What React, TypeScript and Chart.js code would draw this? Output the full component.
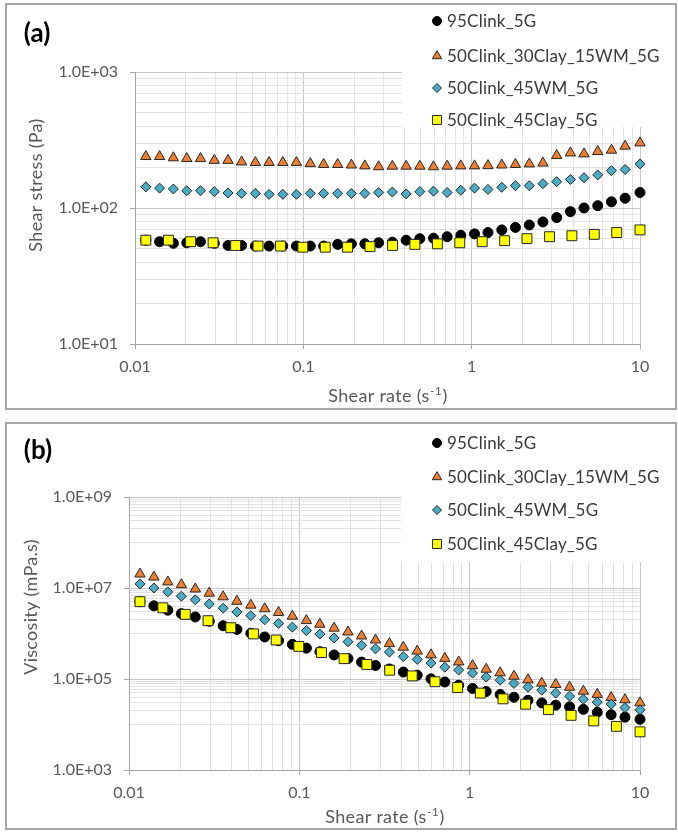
import React, { useEffect, useRef } from 'react';
import { Chart, registerables } from 'chart.js';
Chart.register(...registerables);

// ---------------- DATA ----------------
const seriesNames = ['95Clink_5G', '50Clink_30Clay_15WM_5G', '50Clink_45WM_5G', '50Clink_45Clay_5G'];

// shear rate sweeps (s^-1)
const rateDense = [0.0116, 0.0140, 0.0169, 0.0203, 0.0245, 0.0296, 0.0357, 0.0430, 0.0519, 0.0626, 0.0755, 0.0910, 0.110, 0.132, 0.160, 0.193, 0.232, 0.280, 0.338, 0.408, 0.492, 0.593, 0.715, 0.862, 1.04, 1.25, 1.51, 1.82, 2.20, 2.65, 3.20, 3.86, 4.65, 5.61, 6.77, 8.16, 10.0];
const rateSparse = [0.0116, 0.0158, 0.0214, 0.0291, 0.0396, 0.0538, 0.0731, 0.0993, 0.135, 0.183, 0.249, 0.339, 0.460, 0.626, 0.850, 1.155, 1.57, 2.13, 2.90, 3.94, 5.35, 7.27, 10.0];

// (a) shear stress (Pa)
const stress95 = [58, 56.5, 55, 55.5, 56.5, 55, 53, 53, 52.5, 52.5, 52.5, 52.5, 52.5, 52.5, 54, 54.5, 54.5, 55.5, 56, 58, 59.5, 60, 61.5, 63, 64.5, 66, 69, 72, 75, 79, 85, 94, 100, 104, 111, 118, 130];
const stress30Clay15WM = [239, 239, 234, 231, 231, 224, 224, 218, 216, 216, 216, 216, 212, 209, 209, 207, 204, 201, 203, 203, 203, 201, 203, 204, 204, 205, 207, 209, 211, 214, 243, 254, 250, 260, 266, 285, 301];
const stress45WM = [143, 140, 138, 134, 134, 132, 129, 128, 128, 126, 126, 126, 128, 128, 128, 128, 128, 130, 131, 127, 132, 133, 130, 135, 140, 137, 142, 146, 146, 151, 156, 162, 167, 175, 188, 192, 211];
const stress45Clay = [58, 58, 56.5, 55.5, 53, 52.5, 52.5, 51.5, 51.5, 51.5, 52, 53, 54, 54.5, 55.5, 56.5, 57.5, 59.5, 61.5, 62.5, 64, 66, 69];

// (b) viscosity (mPa.s)
const visc95 = [5.0e6, 4.05e6, 3.25e6, 2.73e6, 2.31e6, 1.86e6, 1.48e6, 1.23e6, 1.01e6, 8.4e5, 6.95e5, 5.77e5, 4.77e5, 3.98e5, 3.38e5, 2.82e5, 2.35e5, 1.98e5, 1.66e5, 1.42e5, 1.21e5, 1.01e5, 8.6e4, 7.3e4, 6.2e4, 5.3e4, 4.57e4, 3.96e4, 3.4e4, 2.98e4, 2.66e4, 2.44e4, 2.15e4, 1.85e4, 1.64e4, 1.45e4, 1.3e4];
const visc30Clay15WM = [2.03e7, 1.74e7, 1.36e7, 1.18e7, 9.5e6, 7.7e6, 6.4e6, 5.1e6, 4.2e6, 3.5e6, 2.9e6, 2.4e6, 1.92e6, 1.6e6, 1.31e6, 1.08e6, 8.8e5, 7.2e5, 6.0e5, 5.0e5, 4.1e5, 3.4e5, 2.84e5, 2.37e5, 1.96e5, 1.64e5, 1.37e5, 1.15e5, 9.6e4, 8.1e4, 7.6e4, 6.6e4, 5.4e4, 4.6e4, 3.9e4, 3.5e4, 3.0e4];
const visc45WM = [1.23e7, 1.0e7, 8.2e6, 6.6e6, 5.5e6, 4.46e6, 3.6e6, 2.98e6, 2.47e6, 2.0e6, 1.67e6, 1.38e6, 1.16e6, 9.7e5, 8.0e5, 6.6e5, 5.5e5, 4.6e5, 3.9e5, 3.1e5, 2.7e5, 2.24e5, 1.82e5, 1.57e5, 1.35e5, 1.1e5, 9.4e4, 8.0e4, 6.6e4, 5.7e4, 4.9e4, 4.2e4, 3.6e4, 3.1e4, 2.8e4, 2.35e4, 2.1e4];
const visc45Clay = [5.0e6, 3.67e6, 2.64e6, 1.91e6, 1.34e6, 9.8e5, 7.2e5, 5.2e5, 3.8e5, 2.8e5, 2.09e5, 1.56e5, 1.17e5, 8.7e4, 6.5e4, 4.9e4, 3.66e4, 2.79e4, 2.12e4, 1.59e4, 1.2e4, 9.1e3, 6.9e3];

// tick / gridline values
const xGrid = [0.01, 0.02, 0.03, 0.04, 0.05, 0.06, 0.07, 0.08, 0.09, 0.1, 0.2, 0.3, 0.4, 0.5, 0.6, 0.7, 0.8, 0.9, 1, 2, 3, 4, 5, 6, 7, 8, 9, 10];
const xLabels = [0.01, 0.1, 1, 10];
const yGridA = [10, 20, 30, 40, 50, 60, 70, 80, 90, 100, 200, 300, 400, 500, 600, 700, 800, 900, 1000];
const yLabelsA = [10, 100, 1000];
const yGridB = [1e3, 1e4, 2e4, 3e4, 4e4, 5e4, 6e4, 7e4, 8e4, 9e4, 1e5, 1e6, 2e6, 3e6, 4e6, 5e6, 6e6, 7e6, 8e6, 9e6, 1e7, 1e8, 2e8, 3e8, 4e8, 5e8, 6e8, 7e8, 8e8, 9e8, 1e9];
const yLabelsB = [1e3, 1e5, 1e7, 1e9];

// ---------------- STYLE ----------------
const FONT = "Lato, 'DejaVu Sans', sans-serif";
const markerStyles = [
  { style: 'circle', r: 5, fill: '#000000', stroke: '#000000' },
  { style: 'triangle', r: 6, fill: '#ED7D31', stroke: '#262626' },
  { style: 'rectRot', r: 5, fill: '#4BACC6', stroke: '#262626' },
  { style: 'rect', r: 7, fill: '#FFFF00', stroke: '#262626' },
];
const MAJOR_GRID = '#c8c8c8';
const MINOR_GRID = '#e2e2e2';
const AXIS_COLOR = '#a6a6a6';

function fmtExp(v: number) {
  const e = Math.round(Math.log10(v));
  return '1.0E' + (e < 0 ? '-' : '+') + String(Math.abs(e)).padStart(2, '0');
}

function drawMarker(ctx: CanvasRenderingContext2D, style: string, x: number, y: number, r: number, fill: string, stroke: string) {
  ctx.beginPath();
  if (style === 'circle') {
    ctx.arc(x, y, r, 0, Math.PI * 2);
  } else if (style === 'triangle') {
    for (let i = 0; i < 3; i++) {
      const a = (i * 2 * Math.PI) / 3;
      const px = x + Math.sin(a) * r;
      const py = y - Math.cos(a) * r;
      if (i === 0) ctx.moveTo(px, py); else ctx.lineTo(px, py);
    }
    ctx.closePath();
  } else if (style === 'rectRot') {
    ctx.moveTo(x - r, y); ctx.lineTo(x, y - r); ctx.lineTo(x + r, y); ctx.lineTo(x, y + r); ctx.closePath();
  } else {
    const s = Math.SQRT1_2 * r;
    ctx.rect(x - s, y - s, 2 * s, 2 * s);
  }
  ctx.fillStyle = fill; ctx.fill();
  ctx.lineWidth = 1; ctx.strokeStyle = stroke; ctx.stroke();
}

type PanelCfg = {
  canvasTop: number; canvasH: number;
  areaLeft: number; areaTop: number; areaBottom: number; areaRight: number;
  yMin: number; yMax: number; yGrid: number[]; yLabels: number[];
  seriesX: number[][]; seriesY: number[][];
  label: string; labelX: number; labelY: number;
  yTitle: string; yTitleX: number; yTitleY: number;
  xTitleY: number;
  legendRows: number[]; legendBox: { x: number; y: number; w: number; h: number };
};

function buildConfig(p: PanelCfg): any {
  const W = 678;
  const datasets = seriesNames.map((name, i) => ({
    label: name,
    data: p.seriesX[i].map((x, j) => ({ x, y: p.seriesY[i][j] })),
    showLine: false,
    pointStyle: markerStyles[i].style,
    pointRadius: markerStyles[i].r,
    pointHoverRadius: markerStyles[i].r,
    pointBackgroundColor: markerStyles[i].fill,
    pointBorderColor: markerStyles[i].stroke,
    pointBorderWidth: 1,
    order: 3 - i,
    clip: false,
  }));

  const overlay = {
    id: 'overlay',
    beforeDatasetsDraw(chart: any) {
      const ctx = chart.ctx;
      const b = p.legendBox;
      ctx.save();
      ctx.fillStyle = '#ffffff';
      ctx.fillRect(b.x, b.y, b.w, b.h);
      ctx.restore();
    },
    afterDraw(chart: any) {
      const ctx: any = chart.ctx;
      ctx.save();
      // legend
      ctx.font = `17px ${FONT}`;
      ctx.letterSpacing = '0.2px';
      ctx.textBaseline = 'middle';
      ctx.textAlign = 'left';
      seriesNames.forEach((name, i) => {
        const m = markerStyles[i];
        const yy = p.legendRows[i];
        drawMarker(ctx, m.style, 437, yy, m.r * 0.9, m.fill, m.stroke);
        ctx.fillStyle = '#3a3a3a';
        ctx.fillText(name, 447, yy + 1);
      });
      ctx.letterSpacing = '0px';
      // panel label
      ctx.font = `bold 26px ${FONT}`;
      ctx.fillStyle = '#000000';
      ctx.textAlign = 'center';
      ctx.fillText(p.label, p.labelX, p.labelY);
      // y title
      ctx.font = `18px ${FONT}`;
      ctx.letterSpacing = '0.3px';
      ctx.fillStyle = '#595959';
      ctx.save();
      ctx.translate(p.yTitleX, p.yTitleY);
      ctx.rotate(-Math.PI / 2);
      ctx.textAlign = 'center';
      ctx.fillText(p.yTitle, 0, 0);
      ctx.restore();
      // x title with superscript
      const t1 = 'Shear rate (s', sup = '-1', t3 = ')';
      ctx.textBaseline = 'alphabetic';
      ctx.textAlign = 'left';
      ctx.font = `18px ${FONT}`;
      const w1 = ctx.measureText(t1).width, w3 = ctx.measureText(t3).width;
      ctx.font = `12px ${FONT}`;
      const w2 = ctx.measureText(sup).width;
      const cx = (p.areaLeft + p.areaRight) / 2;
      const x0 = cx - (w1 + w2 + w3) / 2;
      const base = p.xTitleY + 6;
      ctx.font = `18px ${FONT}`;
      ctx.fillText(t1, x0, base);
      ctx.font = `12px ${FONT}`;
      ctx.fillText(sup, x0 + w1 + 0.5, base - 7);
      ctx.font = `18px ${FONT}`;
      ctx.fillText(t3, x0 + w1 + w2 + 1, base);
      ctx.restore();
    },
  };

  const gridColor = (labels: number[]) => (c: any) => (c.tick && labels.includes(c.tick.value) ? MAJOR_GRID : MINOR_GRID);
  const tickColor = (labels: number[]) => (c: any) => (c.tick && labels.includes(c.tick.value) ? AXIS_COLOR : 'rgba(0,0,0,0)');

  return {
    type: 'scatter',
    data: { datasets },
    plugins: [overlay],
    options: {
      animation: false,
      responsive: false,
      maintainAspectRatio: false,
      events: [],
      layout: { padding: { left: 0, top: p.areaTop, right: W - p.areaRight, bottom: 0 } },
      plugins: { legend: { display: false }, tooltip: { enabled: false }, title: { display: false } },
      scales: {
        x: {
          type: 'logarithmic',
          min: 0.01, max: 10,
          afterBuildTicks: (s: any) => { s.ticks = xGrid.map((v) => ({ value: v })); },
          afterFit: (s: any) => { s.height = p.canvasH - p.areaBottom; },
          ticks: {
            autoSkip: false, maxRotation: 0, minRotation: 0, padding: 8,
            color: '#595959', font: { family: FONT, size: 16 },
            callback: (v: number) => (xLabels.includes(v) ? String(v) : ''),
          },
          grid: { color: gridColor(xLabels), tickColor: tickColor(xLabels), tickLength: 5, lineWidth: 1 },
          border: { color: AXIS_COLOR, width: 1 },
        },
        y: {
          type: 'logarithmic',
          min: p.yMin, max: p.yMax,
          afterBuildTicks: (s: any) => { s.ticks = p.yGrid.map((v) => ({ value: v })); },
          afterFit: (s: any) => { s.width = p.areaLeft; },
          ticks: {
            autoSkip: false, padding: 12,
            color: '#595959', font: { family: FONT, size: 16 },
            callback: (v: number) => (p.yLabels.includes(v) ? fmtExp(v) : ''),
          },
          grid: { color: gridColor(p.yLabels), tickColor: tickColor(p.yLabels), tickLength: 5, lineWidth: 1 },
          border: { color: AXIS_COLOR, width: 1 },
        },
      },
    },
  };
}

const panelA: PanelCfg = {
  canvasTop: 0, canvasH: 412,
  areaLeft: 135, areaTop: 72, areaBottom: 344, areaRight: 640,
  yMin: 10, yMax: 1000, yGrid: yGridA, yLabels: yLabelsA,
  seriesX: [rateDense, rateDense, rateDense, rateSparse],
  seriesY: [stress95, stress30Clay15WM, stress45WM, stress45Clay],
  label: '(a)', labelX: 37, labelY: 34,
  yTitle: 'Shear stress (Pa)', yTitleX: 36, yTitleY: 185,
  xTitleY: 396,
  legendRows: [21, 56, 88, 120],
  legendBox: { x: 402, y: 70, w: 240, h: 57 },
};

const panelB: PanelCfg = {
  canvasTop: 416, canvasH: 417,
  areaLeft: 129, areaTop: 81, areaBottom: 354, areaRight: 640,
  yMin: 1e3, yMax: 1e9, yGrid: yGridB, yLabels: yLabelsB,
  seriesX: [rateDense, rateDense, rateDense, rateSparse],
  seriesY: [visc95, visc30Clay15WM, visc45WM, visc45Clay],
  label: '(b)', labelX: 38, labelY: 35,
  yTitle: 'Viscosity (mPa.s)', yTitleX: 31, yTitleY: 191,
  xTitleY: 401,
  legendRows: [27, 61, 94, 128],
  legendBox: { x: 401, y: 79, w: 241, h: 67 },
};

function ChartPanel({ cfg }: { cfg: PanelCfg }) {
  const ref = useRef<HTMLCanvasElement>(null);
  useEffect(() => {
    const chart = new Chart(ref.current as HTMLCanvasElement, buildConfig(cfg));
    return () => chart.destroy();
  }, [cfg]);
  return (
    <canvas
      ref={ref}
      width={678}
      height={cfg.canvasH}
      style={{ position: 'absolute', left: 0, top: cfg.canvasTop, width: 678, height: cfg.canvasH }}
    />
  );
}

export default function App() {
  const frame = (top: number, height: number): React.CSSProperties => ({
    position: 'absolute', left: 5, top, width: 672, height, boxSizing: 'border-box',
    border: '2px solid #a6a6a6', background: '#ffffff',
  });
  return (
    <div style={{ position: 'absolute', left: 0, top: 0, width: 678, height: 833, background: '#ffffff', overflow: 'hidden' }}>
      <div style={frame(3, 407)} />
      <div style={frame(422, 408)} />
      <ChartPanel cfg={panelA} />
      <ChartPanel cfg={panelB} />
    </div>
  );
}
